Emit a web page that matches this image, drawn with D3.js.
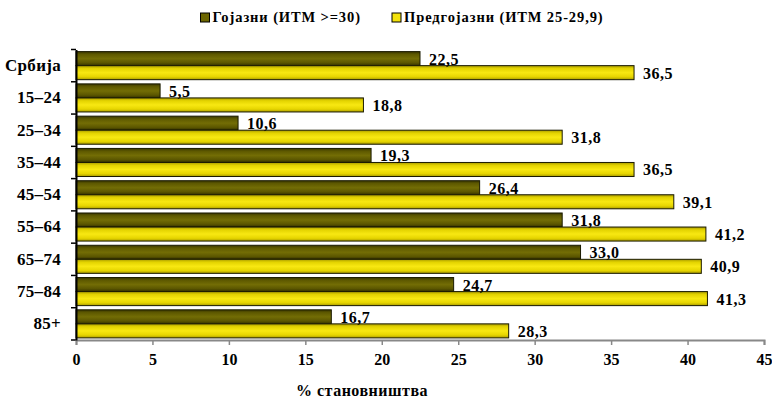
<!DOCTYPE html>
<html>
<head>
<meta charset="utf-8">
<script src="https://cdn.jsdelivr.net/npm/d3@7"></script>
<style>
  html, body { margin: 0; padding: 0; background: #fff; }
  svg { display: block; }
  text { font-family: "Liberation Serif", "Times New Roman", serif; font-weight: bold; fill: #000; }
</style>
</head>
<body>
<svg id="chart" width="772" height="398"></svg>
<script>
// Age groups (top to bottom)
const categories = ["Србија", "15–24", "25–34", "35–44", "45–54", "55–64", "65–74", "75–84", "85+"];
// Obese share, BMI >= 30 (%)
const obese = [22.5, 5.5, 10.6, 19.3, 26.4, 31.8, 33.0, 24.7, 16.7];
// Overweight share, BMI 25–29.9 (%)
const overweight = [36.5, 18.8, 31.8, 36.5, 39.1, 41.2, 40.9, 41.3, 28.3];
const seriesNames = ["Гојазни (ИТМ >=30)", "Предгојазни (ИТМ 25-29,9)"];
const xTicks = [0, 5, 10, 15, 20, 25, 30, 35, 40, 45];
const xTitle = "% становништва";

const svg = d3.select("#chart");
const margin = { left: 76, top: 49.5 };
const plotW = 688, plotH = 290.5;

const x = d3.scaleLinear().domain([0, 45]).range([margin.left, margin.left + plotW]);
const y = d3.scaleBand().domain(categories).range([margin.top, margin.top + plotH]).paddingInner(0.13).paddingOuter(0.065);
const sub = d3.scaleBand().domain([0, 1]).range([0, y.bandwidth()]);

// Shaded fills giving the bars a rounded look
const defs = svg.append("defs");
function grad(id, stops) {
  const g = defs.append("linearGradient").attr("id", id).attr("x1", 0).attr("y1", 0).attr("x2", 0).attr("y2", 1);
  stops.forEach(([o, c]) => g.append("stop").attr("offset", o).attr("stop-color", c));
}
grad("gDark", [[0, "#3a3700"], [0.2, "#5e5900"], [0.5, "#736d05"], [0.8, "#5b5600"], [1, "#333000"]]);
grad("gYellow", [[0, "#a89a00"], [0.2, "#e3d300"], [0.5, "#f8e812"], [0.8, "#e6d500"], [1, "#a89a00"]]);

const fills = ["url(#gDark)", "url(#gYellow)"];
const data = [obese, overweight];

// Bars
data.forEach((vals, s) => {
  svg.append("g").selectAll("rect").data(vals).join("rect")
    .attr("x", x(0))
    .attr("y", (d, i) => y(categories[i]) + sub(s))
    .attr("width", d => x(d) - x(0))
    .attr("height", sub.bandwidth())
    .attr("fill", fills[s])
    .attr("stroke", "#1a1a00")
    .attr("stroke-width", 1);
});

// Value labels
data.forEach((vals, s) => {
  svg.append("g").selectAll("text").data(vals).join("text")
    .attr("x", d => x(d) + 9)
    .attr("y", (d, i) => y(categories[i]) + sub(s) + sub.bandwidth() / 2 + 6)
    .attr("font-size", 16)
    .attr("letter-spacing", 0.5)
    .text(d => d3.format(".1f")(d).replace(".", ","));
});

// Y axis
const yAxis = svg.append("g").attr("transform", `translate(${margin.left},0)`)
  .call(d3.axisLeft(y).tickSize(0).tickPadding(15));
yAxis.select(".domain").attr("stroke", "#000").attr("stroke-width", 2);
yAxis.selectAll("text").attr("font-size", 17).attr("letter-spacing", 0.3).attr("font-family", null);
// category separators on the left axis
svg.append("g").selectAll("line").data(d3.range(categories.length + 1)).join("line")
  .attr("x1", margin.left - 5).attr("x2", margin.left)
  .attr("y1", i => margin.top + i * plotH / categories.length)
  .attr("y2", i => margin.top + i * plotH / categories.length)
  .attr("stroke", "#000").attr("stroke-width", 1.5);

// X axis
const xAxis = svg.append("g").attr("transform", `translate(0,${margin.top + plotH})`)
  .call(d3.axisBottom(x).tickValues(xTicks).tickSize(5).tickPadding(8.5).tickFormat(d3.format("d")));
xAxis.select(".domain").attr("stroke", "#888").attr("stroke-width", 2);
xAxis.selectAll(".tick line").attr("stroke", "#888").attr("stroke-width", 1.5);
xAxis.selectAll("text").attr("font-size", 16).attr("font-family", null);
// keep left axis line on top
yAxis.raise();

// Axis title
svg.append("text").attr("x", 362).attr("y", 396).attr("text-anchor", "middle")
  .attr("font-size", 16).attr("letter-spacing", 0.5).text(xTitle);

// Legend
const legendX = [200.5, 392];
const legendFill = ["#6c6600", "#f3e20c"];
seriesNames.forEach((n, s) => {
  svg.append("rect").attr("x", legendX[s]).attr("y", 13).attr("width", 9).attr("height", 9)
    .attr("fill", legendFill[s]).attr("stroke", "#000").attr("stroke-width", 1);
  svg.append("text").attr("x", legendX[s] + 12).attr("y", 22)
    .attr("font-size", 14.5).attr("letter-spacing", 0.9).text(n);
});
</script>
</body>
</html>
